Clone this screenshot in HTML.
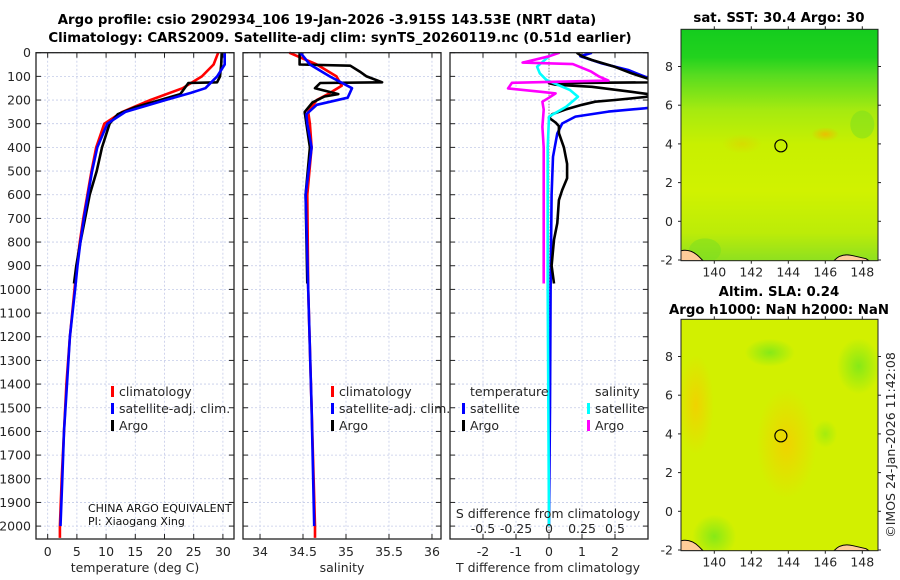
<!DOCTYPE html>
<html><head><meta charset="utf-8">
<style>
html,body{margin:0;padding:0;background:#fff;}
svg{display:block;font-family:"DejaVu Sans","Liberation Sans",sans-serif;}
.tk{font-size:12.5px;fill:#262626;}
.tt{font-size:13.3px;font-weight:bold;fill:#000;}
</style></head>
<body>
<svg id="fig" width="900" height="580" viewBox="0 0 900 580" xmlns="http://www.w3.org/2000/svg">
<defs>
<linearGradient id="sstGrad" x1="0" y1="0" x2="0" y2="1">
<stop offset="0" stop-color="#14cc1e"/><stop offset="0.12" stop-color="#22d21e"/>
<stop offset="0.2" stop-color="#58dc20"/><stop offset="0.35" stop-color="#a6ea10"/>
<stop offset="0.5" stop-color="#c8f000"/><stop offset="0.7" stop-color="#d0f200"/>
<stop offset="0.88" stop-color="#bcec08"/><stop offset="1" stop-color="#8ee020"/>
</linearGradient>
<radialGradient id="sstHot" cx="0.5" cy="0.5" r="0.5">
<stop offset="0" stop-color="#f4b400" stop-opacity="0.8"/><stop offset="1" stop-color="#f4b400" stop-opacity="0"/>
</radialGradient>
<radialGradient id="slaHot" cx="0.5" cy="0.5" r="0.5">
<stop offset="0" stop-color="#f2d000" stop-opacity="0.9"/><stop offset="1" stop-color="#f2d000" stop-opacity="0"/>
</radialGradient>
<radialGradient id="slaGreen" cx="0.5" cy="0.5" r="0.5">
<stop offset="0" stop-color="#7ee81a" stop-opacity="0.9"/><stop offset="1" stop-color="#7ee81a" stop-opacity="0"/>
</radialGradient>
</defs>
<g id="root"></g>
</svg>
<script>
// ---------- data ----------
const depthTicks = [0,100,200,300,400,500,600,700,800,900,1000,1100,1200,1300,1400,1500,1600,1700,1800,1900,2000];
const tempTicks = [0,5,10,15,20,25,30];
const salTicks = [34,34.5,35,35.5,36];
const salTickLabels = ["34","34.5","35","35.5","36"];
const dtTicks = [-2,-1,0,1,2];
const dsTicks = [-0.5,-0.25,0,0.25,0.5];
const dsTickLabels = ["-0.5","-0.25","0","0.25","0.5"];

const climDepth = [0,50,100,150,200,250,300,400,500,600,700,800,900,1000,1200,1400,1600,1800,2000,2050];
const climTemp  = [29.2,28.4,26.4,23.1,17.6,12.8,9.7,8.3,7.5,6.8,6.1,5.5,5.0,4.6,3.8,3.2,2.8,2.4,2.1,2.1];
const satDepth  = [0,50,100,150,170,200,250,300,400,500,600,700,800,900,1000,1200,1400,1600,1800,2000];
const satTemp   = [30.3,30.3,29.0,27.0,24.5,20.2,13.3,10.2,8.5,7.6,6.9,6.2,5.6,5.1,4.7,3.8,3.3,2.8,2.5,2.2];
const argoDepth = [0,50,100,125,128,175,200,230,260,300,400,500,600,700,800,900,975];
const argoTemp  = [29.8,29.7,29.5,29.0,24.1,22.7,19.3,15.0,12.0,10.6,9.3,8.4,7.2,6.4,5.6,4.9,4.5];

const climSalDepth = [0,50,100,140,175,200,250,300,400,600,1000,1500,2000,2050];
const climSal = [34.34,34.66,34.89,34.95,34.79,34.66,34.56,34.58,34.60,34.55,34.56,34.60,34.64,34.64];
const satSalDepth = [0,50,100,150,190,220,260,300,400,600,1000,1500,2000];
const satSal = [34.47,34.58,34.81,35.07,35.02,34.66,34.54,34.55,34.60,34.53,34.56,34.60,34.63];
const argoSalDepth = [0,40,50,55,80,100,125,128,150,160,175,185,210,250,300,400,600,975];
const argoSal = [34.46,34.46,34.46,35.05,35.16,35.24,35.42,34.70,34.64,34.75,34.91,34.75,34.61,34.52,34.54,34.58,34.53,34.55];

const dtSatDepth = [0,15,45,73,101,120,230,235,249,270,299,341,440,600,1000,1500,2000];
const dtSat = [1.3,0.95,1.6,2.4,2.9,3.2,3.2,2.9,1.8,0.8,0.4,0.25,0.12,0.08,0.05,0.03,0.0];
const dtArgoDepth = [0,15,31,60,87,110,125,129,135,144,165,175,186,200,207,220,240,260,275,295,310,340,400,470,530,580,623,720,790,900,975];
const dtArgo = [0.84,1.0,1.3,2.0,2.5,3.0,3.3,0.0,0.2,1.3,2.5,3.0,3.0,2.0,1.4,1.0,0.5,0.1,0.0,0.2,0.3,0.3,0.45,0.55,0.55,0.4,0.3,0.25,0.15,0.08,0.15];
const dsSatDepth = [0,15,59,87,115,158,186,228,270,400,1000,2000];
const dsSat = [0.06,0.0,-0.09,-0.07,-0.02,0.16,0.22,0.13,0.0,-0.01,-0.01,0.0];
const dsArgoDepth = [0,15,42,48,80,101,118,127,151,165,172,190,207,240,313,400,600,975];
const dsArgo = [0.08,0.0,-0.2,0.18,0.32,0.38,0.45,-0.28,-0.31,-0.06,0.05,0.0,-0.05,-0.04,-0.05,-0.04,-0.04,-0.04];

const mapLonTicks = [140,142,144,146,148];
const mapLatTicks = [-2,0,2,4,6,8];
const argoLon = 143.6, argoLat = 3.9;

// ---------- helpers ----------
const NS = "http://www.w3.org/2000/svg";
const root = document.getElementById('root');
function mk(tag, attrs, parent, text){
  const e = document.createElementNS(NS, tag);
  for (const k in attrs) e.setAttribute(k, attrs[k]);
  if (text !== undefined) e.textContent = text;
  (parent||root).appendChild(e);
  return e;
}
const Y0 = 52.7, PXM = 0.2367;
function yD(d){ return Y0 + d*PXM; }
const PT = 52.7, PB = 539;

function panel(name, xl, xr, xmin, xmax){
  const g = mk('g', {});
  
  
  const sx = v => xl + (v - xmin)/(xmax - xmin)*(xr - xl);
  return {g, sx};
}
function grid(p, xl, xr, xs){
  depthTicks.forEach(d=>{
    const l = mk('line',{x1:xl,x2:xr,y1:yD(d),y2:yD(d),stroke:'#c4cbe8','stroke-width':0.8,'stroke-dasharray':'2,2'},p.g);
    
    
    mk('line',{x1:xl,x2:xl+5,y1:yD(d),y2:yD(d),stroke:'#222','stroke-width':1},p.g);
    mk('line',{x1:xr-5,x2:xr,y1:yD(d),y2:yD(d),stroke:'#222','stroke-width':1},p.g);
  });
  xs.forEach(v=>{
    const x = p.sx(v);
    const l = mk('line',{x1:x,x2:x,y1:PT,y2:PB,stroke:'#c4cbe8','stroke-width':0.8,'stroke-dasharray':'2,2'},p.g);
    
    
    mk('line',{x1:x,x2:x,y1:PB-5,y2:PB,stroke:'#222','stroke-width':1},p.g);
    mk('line',{x1:x,x2:x,y1:PT,y2:PT+5,stroke:'#222','stroke-width':1},p.g);
  });
}
function frame(p, xl, xr){
  const r = mk('rect',{x:xl,y:PT,width:xr-xl,height:PB-PT,fill:'none',stroke:'#222','stroke-width':1.3},p.g);
  
  
}
function series(p, depths, vals, color, name, w){
  const pts = depths.map((d,i)=> p.sx(vals[i]).toFixed(1)+','+yD(d).toFixed(1)).join(' ');
  const pl = mk('polyline',{points:pts,fill:'none',stroke:color,'stroke-width':w||2.6,'stroke-linejoin':'round'},p.g);
  
  
}
function clipSeries(p, xl, xr, depths, vals, color, name, w, id){
  const cp = mk('clipPath',{id:id},p.g);
  mk('rect',{x:xl,y:PT,width:xr-xl,height:PB-PT},cp);
  const g = mk('g',{'clip-path':'url(#'+id+')'},p.g);
  const pts = depths.map((d,i)=> p.sx(vals[i]).toFixed(1)+','+yD(d).toFixed(1)).join(' ');
  const pl = mk('polyline',{points:pts,fill:'none',stroke:color,'stroke-width':w||2.6,'stroke-linejoin':'round'},g);
  
  
}
function legendEntry(p, x, y, color, label){
  const g = mk('g',{},p.g);
  
  
  mk('rect',{x:x,y:y-10,width:3,height:11,fill:color},g);
  mk('text',{x:x+8,y:y,class:'tk'},g,label);
}

// ---------- titles ----------
const t1 = mk('text',{x:327,y:24,class:'tt','text-anchor':'middle'},root,'Argo profile: csio 2902934_106 19-Jan-2026 -3.915S 143.53E (NRT data)');


const t2 = mk('text',{x:340,y:42,class:'tt','text-anchor':'middle'},root,'Climatology: CARS2009. Satellite-adj clim: synTS_20260119.nc (0.51d earlier)');



// ---------- panel 1: temperature ----------
const P1L=36,P1R=234;
const p1 = panel('temperature-panel',P1L,P1R,-2,31.9);
grid(p1,P1L,P1R,tempTicks);
depthTicks.forEach(d=>{
  const t = mk('text',{x:31,y:yD(d)+4.5,class:'tk','text-anchor':'end'},p1.g,String(d));
  
  
});
tempTicks.forEach(v=>{
  const t = mk('text',{x:p1.sx(v),y:556,class:'tk','text-anchor':'middle'},p1.g,String(v));
  
  
});
const xl1 = mk('text',{x:135,y:572,class:'tk','text-anchor':'middle'},p1.g,'temperature (deg C)');


series(p1,climDepth,climTemp,'#ff0000','climatology-temp-line');
series(p1,argoDepth,argoTemp,'#000000','argo-temp-line');
series(p1,satDepth,satTemp,'#0000ff','satellite-temp-line');
legendEntry(p1,111,396,'#ff0000','climatology');
legendEntry(p1,111,413,'#0000ff','satellite-adj. clim.');
legendEntry(p1,111,430,'#000000','Argo');
const ca = mk('text',{x:88,y:512,'font-size':'11px',fill:'#111'},p1.g,'CHINA ARGO EQUIVALENT');


const pi = mk('text',{x:88,y:525,'font-size':'11px',fill:'#111'},p1.g,'PI: Xiaogang Xing');


frame(p1,P1L,P1R);

// ---------- panel 2: salinity ----------
const P2L=243,P2R=441;
const p2 = panel('salinity-panel',P2L,P2R,33.802,36.105);
grid(p2,P2L,P2R,salTicks);
salTicks.forEach((v,i)=>{
  const t = mk('text',{x:p2.sx(v),y:556,class:'tk','text-anchor':'middle'},p2.g,salTickLabels[i]);
  
  
});
const xl2 = mk('text',{x:342,y:572,class:'tk','text-anchor':'middle'},p2.g,'salinity');


series(p2,climSalDepth,climSal,'#ff0000','climatology-salinity-line');
series(p2,argoSalDepth,argoSal,'#000000','argo-salinity-line');
series(p2,satSalDepth,satSal,'#0000ff','satellite-salinity-line');
legendEntry(p2,331,396,'#ff0000','climatology');
legendEntry(p2,331,413,'#0000ff','satellite-adj. clim.');
legendEntry(p2,331,430,'#000000','Argo');
frame(p2,P2L,P2R);

// ---------- panel 3: differences ----------
const P3L=450,P3R=648;
const p3 = panel('difference-panel',P3L,P3R,-3,3);
grid(p3,P3L,P3R,dtTicks);
const zl = mk('line',{x1:p3.sx(0),x2:p3.sx(0),y1:PT,y2:PB,stroke:'#444','stroke-width':0.8,'stroke-dasharray':'1,2'},p3.g);


const sS = v => v*4; // salinity diff plotted on 4x scale
clipSeries(p3,P3L,P3R,dtSatDepth,dtSat,'#0000ff','satellite-temp-diff-line',2.6,'c1');
clipSeries(p3,P3L,P3R,dtArgoDepth,dtArgo,'#000000','argo-temp-diff-line',2.6,'c2');
clipSeries(p3,P3L,P3R,dsSatDepth,dsSat.map(sS),'#00ffff','satellite-salinity-diff-line',2.6,'c3');
clipSeries(p3,P3L,P3R,dsArgoDepth,dsArgo.map(sS),'#ff00ff','argo-salinity-diff-line',2.6,'c4');
dtTicks.forEach(v=>{
  const t = mk('text',{x:p3.sx(v),y:556,class:'tk','text-anchor':'middle'},p3.g,String(v));
  
  
});
dsTicks.forEach((v,i)=>{
  const t = mk('text',{x:p3.sx(sS(v)),y:533,class:'tk','text-anchor':'middle'},p3.g,dsTickLabels[i]);
  
  
});
const sdt = mk('text',{x:548,y:518,class:'tk','text-anchor':'middle'},p3.g,'S difference from climatology');


const tdt = mk('text',{x:548,y:572,class:'tk','text-anchor':'middle'},p3.g,'T difference from climatology');


const lt = mk('text',{x:470,y:396,class:'tk'},p3.g,'temperature');


const ls = mk('text',{x:595,y:396,class:'tk'},p3.g,'salinity');


legendEntry(p3,462,413,'#0000ff','satellite');
legendEntry(p3,462,430,'#000000','Argo');
legendEntry(p3,587,413,'#00ffff','satellite');
legendEntry(p3,587,430,'#ff00ff','Argo');
frame(p3,P3L,P3R);

// ---------- maps ----------
function map(name, top, bottom, fillFn){
  const L=681, R=878;
  const g = mk('g',{});
  
  
  const sx = lon => 714.3 + (lon-140)*18.5;
  const latBot = -2, yBot = bottom - 0.7;
  const sy = lat => yBot - (lat-latBot)*19.35;
  const cp = mk('clipPath',{id:'clip-'+name},g);
  mk('rect',{x:L,y:top,width:R-L,height:bottom-top},cp);
  const inner = mk('g',{'clip-path':'url(#clip-'+name+')'},g);
  fillFn(inner,L,top,R-L,bottom-top,sx,sy);
  const land1 = mk('path',{d:`M${L} ${bottom} L${L} ${bottom-10} Q${L+10} ${bottom-12} ${L+18} ${bottom-4} L${L+22} ${bottom} Z`,fill:'#ffcc99',stroke:'#000','stroke-width':1},inner);
  
  
  const land2 = mk('path',{d:`M${L+153} ${bottom} Q${L+160} ${bottom-8} ${L+172} ${bottom-5} L${L+185} ${bottom-2} L${L+188} ${bottom} Z`,fill:'#ffcc99',stroke:'#000','stroke-width':1},inner);
  
  
  const c = mk('ellipse',{cx:sx(argoLon),cy:sy(argoLat),rx:6,ry:6,fill:'none',stroke:'#000','stroke-width':1.2},g);
  
  
  mk('rect',{x:L,y:top,width:R-L,height:bottom-top,fill:'none',stroke:'#222','stroke-width':1},g);
  mapLonTicks.forEach(v=>{
    const x=sx(v);
    mk('line',{x1:x,x2:x,y1:bottom,y2:bottom+3,stroke:'#222'},g);
    mk('line',{x1:x,x2:x,y1:top,y2:top-3,stroke:'#222'},g);
    const t = mk('text',{x:x,y:bottom+16,class:'tk','text-anchor':'middle'},g,String(v));
    
    
  });
  mapLatTicks.forEach(v=>{
    const y=sy(v);
    mk('line',{x1:L-3,x2:L,y1:y,y2:y,stroke:'#222'},g);
    mk('line',{x1:R,x2:R+3,y1:y,y2:y,stroke:'#222'},g);
    const t = mk('text',{x:L-8,y:y+4.5,class:'tk','text-anchor':'end'},g,String(v));
    
    
  });
  return g;
}
map('sst-map',29.3,260.7,(g,x,y,w,h,sx,sy)=>{
  mk('rect',{x:x,y:y,width:w,height:h,fill:'url(#sstGrad)'},g);
  mk('ellipse',{cx:sx(146),cy:sy(4.5),rx:14,ry:7,fill:'url(#sstHot)'},g);
  mk('ellipse',{cx:sx(141.5),cy:sy(4),rx:20,ry:10,fill:'url(#sstHot)',opacity:0.4},g);
  mk('ellipse',{cx:sx(139.5),cy:sy(-1.5),rx:16,ry:12,fill:'#7ade20',opacity:0.5},g);
  mk('ellipse',{cx:sx(148),cy:sy(5),rx:12,ry:14,fill:'#7ade20',opacity:0.5},g);
});
map('sla-map',319.3,550.7,(g,x,y,w,h,sx,sy)=>{
  mk('rect',{x:x,y:y,width:w,height:h,fill:'#d2f000'},g);
  mk('ellipse',{cx:sx(143.9),cy:sy(3.5),rx:30,ry:55,fill:'url(#slaHot)'},g);
  mk('ellipse',{cx:sx(139),cy:sy(5.5),rx:18,ry:50,fill:'url(#slaHot)'},g);
  mk('ellipse',{cx:sx(143),cy:sy(8.2),rx:25,ry:14,fill:'url(#slaGreen)'},g);
  mk('ellipse',{cx:sx(147.8),cy:sy(7.5),rx:22,ry:28,fill:'url(#slaGreen)'},g);
  mk('ellipse',{cx:sx(140),cy:sy(-1.3),rx:22,ry:22,fill:'url(#slaGreen)'},g);
  mk('ellipse',{cx:sx(146),cy:sy(4),rx:12,ry:14,fill:'url(#slaGreen)',opacity:0.6},g);
});
const mt1 = mk('text',{x:779,y:22,class:'tt','text-anchor':'middle'},root,'sat. SST: 30.4 Argo: 30');


const mt2 = mk('text',{x:779,y:296,class:'tt','text-anchor':'middle'},root,'Altim. SLA: 0.24');


const mt3 = mk('text',{x:779,y:314,class:'tt','text-anchor':'middle'},root,'Argo h1000: NaN h2000: NaN');


const cr = mk('text',{x:0,y:0,class:'tk','text-anchor':'middle',transform:'translate(895,445) rotate(-90)'},root,'©IMOS 24-Jan-2026 11:42:08');


</script>
</body></html>
